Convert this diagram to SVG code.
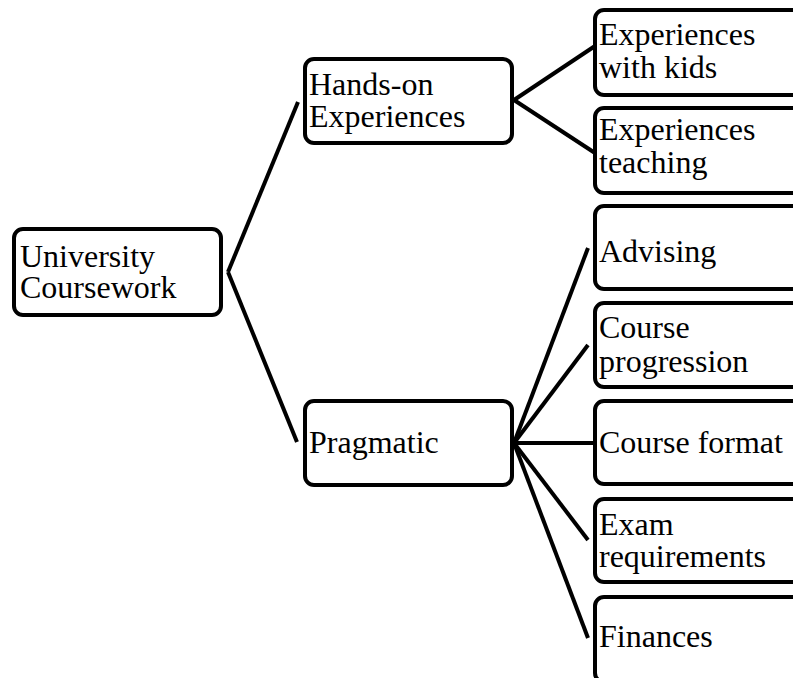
<svg xmlns="http://www.w3.org/2000/svg" width="793" height="678" viewBox="0 0 793 678">
<style>
.box{fill:#fff;stroke:#000;stroke-width:4}
.lbl{font-family:"Liberation Serif","Times New Roman",serif;font-size:32px;fill:#000}
.edge{stroke:#000;stroke-width:4;fill:none}
</style>
<rect width="793" height="678" fill="#fff"/>
<g id="connectors">
<line class="edge" x1="228" y1="272" x2="298" y2="102"/>
<line class="edge" x1="228" y1="272" x2="297" y2="442"/>
<line class="edge" x1="514" y1="100" x2="595" y2="46"/>
<line class="edge" x1="514" y1="100" x2="595" y2="153"/>
<line class="edge" x1="514" y1="443" x2="588" y2="248"/>
<line class="edge" x1="514" y1="443" x2="588" y2="345"/>
<line class="edge" x1="514" y1="443" x2="595" y2="443"/>
<line class="edge" x1="514" y1="443" x2="588" y2="540"/>
<line class="edge" x1="514" y1="443" x2="588" y2="638"/>
</g>
<g id="university">
<rect class="box" x="14" y="229" width="207" height="86" rx="9"/>
<text class="lbl" x="20" y="267">University</text>
<text class="lbl" x="20" y="298">Coursework</text>
</g>
<g id="handson">
<rect class="box" x="305" y="59" width="207" height="84" rx="9"/>
<text class="lbl" x="309" y="95">Hands-on</text>
<text class="lbl" x="309" y="127">Experiences</text>
</g>
<g id="pragmatic">
<rect class="box" x="305" y="401" width="207" height="84" rx="9"/>
<text class="lbl" x="309" y="453">Pragmatic</text>
</g>
<g id="kids">
<rect class="box" x="595" y="10" width="220" height="85" rx="9"/>
<text class="lbl" x="599" y="45">Experiences</text>
<text class="lbl" x="599" y="78">with kids</text>
</g>
<g id="teaching">
<rect class="box" x="595" y="108" width="220" height="85" rx="9"/>
<text class="lbl" x="599" y="140">Experiences</text>
<text class="lbl" x="599" y="173">teaching</text>
</g>
<g id="advising">
<rect class="box" x="595" y="206" width="220" height="83" rx="9"/>
<text class="lbl" x="599" y="262">Advising</text>
</g>
<g id="progression">
<rect class="box" x="595" y="303" width="220" height="84" rx="9"/>
<text class="lbl" x="599" y="338">Course</text>
<text class="lbl" x="599" y="372">progression</text>
</g>
<g id="format">
<rect class="box" x="595" y="401" width="220" height="83" rx="9"/>
<text class="lbl" x="599" y="453">Course format</text>
</g>
<g id="exam">
<rect class="box" x="595" y="499" width="220" height="83" rx="9"/>
<text class="lbl" x="599" y="535">Exam</text>
<text class="lbl" x="599" y="567">requirements</text>
</g>
<g id="finances">
<rect class="box" x="595" y="597" width="220" height="85" rx="9"/>
<text class="lbl" x="599" y="647">Finances</text>
</g>
</svg>
